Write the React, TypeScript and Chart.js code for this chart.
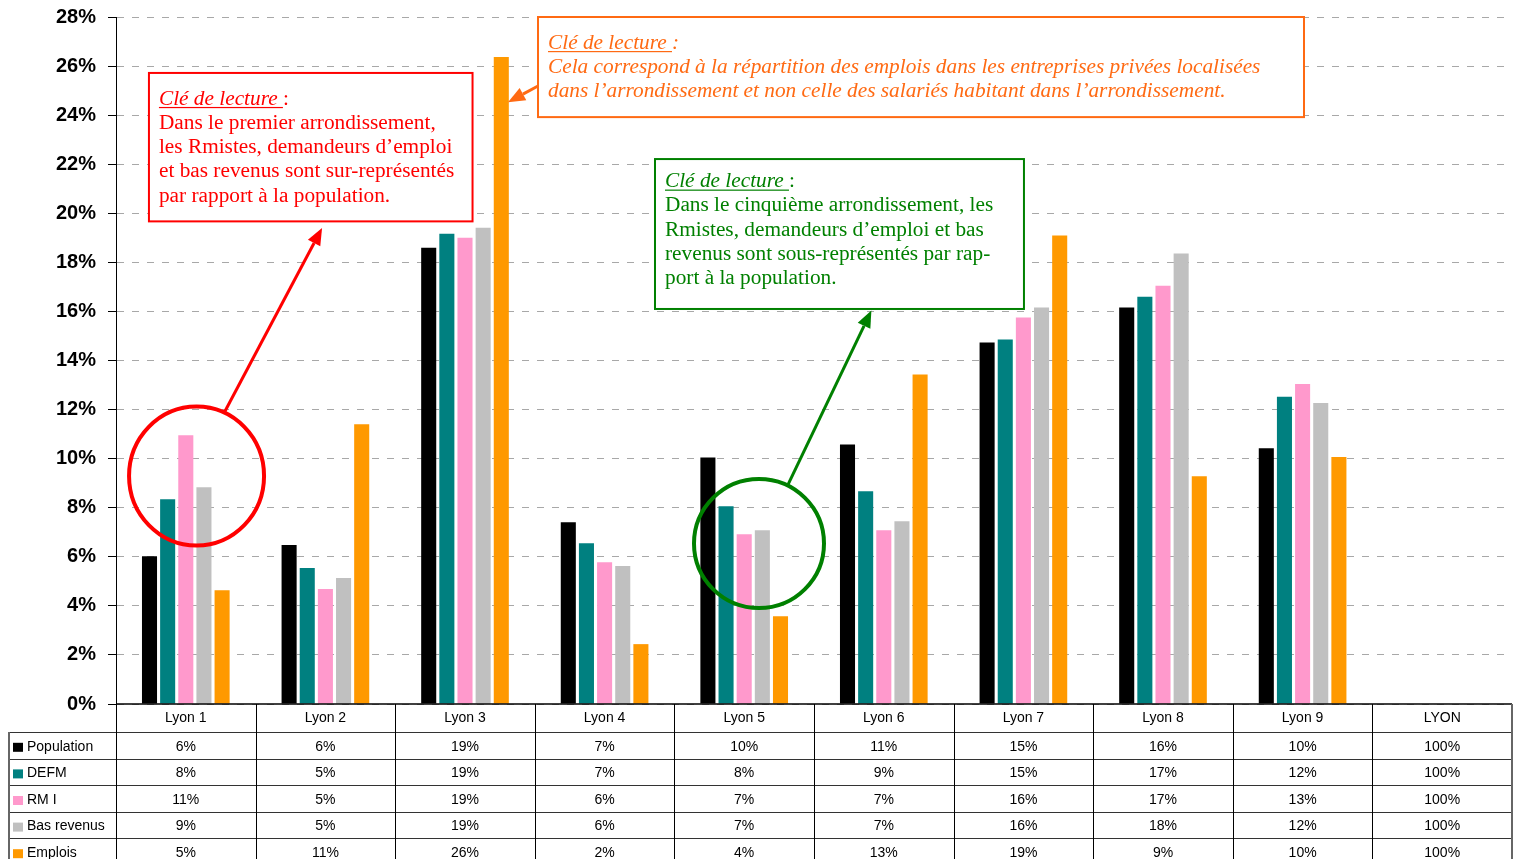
import { useEffect, useRef } from "react";
import { Chart, registerables } from "chart.js";

Chart.register(...registerables);

// ---------- data ----------
const categories = ["Lyon 1", "Lyon 2", "Lyon 3", "Lyon 4", "Lyon 5", "Lyon 6", "Lyon 7", "Lyon 8", "Lyon 9", "LYON"];

// bar heights (%); the LYON column (100%) is not drawn as bars
const population = [6.02, 6.48, 18.6, 7.41, 10.05, 10.58, 14.73, 16.16, 10.42, null];
const defm = [8.34, 5.54, 19.17, 6.55, 8.06, 8.67, 14.86, 16.6, 12.52, null];
const rmi = [10.95, 4.69, 19.0, 5.78, 6.92, 7.08, 15.75, 17.05, 13.04, null];
const basRevenus = [8.83, 5.14, 19.41, 5.62, 7.08, 7.45, 16.16, 18.36, 12.27, null];
const emplois = [4.64, 11.4, 26.37, 2.44, 3.58, 13.43, 19.09, 9.28, 10.07, null];

// data table (as printed)
const tablePopulation = ["6%", "6%", "19%", "7%", "10%", "11%", "15%", "16%", "10%", "100%"];
const tableDefm = ["8%", "5%", "19%", "7%", "8%", "9%", "15%", "17%", "12%", "100%"];
const tableRmi = ["11%", "5%", "19%", "6%", "7%", "7%", "16%", "17%", "13%", "100%"];
const tableBasRevenus = ["9%", "5%", "19%", "6%", "7%", "7%", "16%", "18%", "12%", "100%"];
const tableEmplois = ["5%", "11%", "26%", "2%", "4%", "13%", "19%", "9%", "10%", "100%"];

const seriesNames = ["Population", "DEFM", "RM I", "Bas revenus", "Emplois"];
const seriesColors = ["#000000", "#008080", "#FF99CC", "#C0C0C0", "#FF9900"];

const yTicks = [0, 2, 4, 6, 8, 10, 12, 14, 16, 18, 20, 22, 24, 26, 28];

// ---------- reading notes (anchored in data space: category index / percent) ----------
type Note = {
  color: string;
  italic: boolean;
  box: [number, number, number, number]; // left idx, right idx, top %, bottom %
  textTop: number;
  lines: string[];
  circle?: [number, number, number, number]; // idx, %, rx px, ry px
  arrow: [number, number, number, number]; // from idx,%  to idx,%
};

const notes: Note[] = [
  {
    color: "#FF0000",
    italic: false,
    box: [-0.264, 2.054, 25.72, 19.67],
    textTop: 26,
    lines: [
      "Dans le premier arrondissement,",
      "les Rmistes, demandeurs d’emploi",
      "et bas revenus sont sur-représentés",
      "par rapport à la population.",
    ],
    circle: [0.077, 9.29, 67.5, 69.5],
    arrow: [0.274, 11.86, 0.976, 19.4],
  },
  {
    color: "#FF6A13",
    italic: true,
    box: [2.523, 8.01, 28.0, 23.92],
    textTop: 26,
    lines: [
      "Cela correspond à la répartition des emplois dans les entreprises privées localisées",
      "dans l’arrondissement et non celle des salariés habitant dans l’arrondissement.",
    ],
    arrow: [2.523, 25.19, 2.308, 24.53],
  },
  {
    color: "#008000",
    italic: false,
    box: [3.361, 6.004, 22.21, 16.1],
    textTop: 22.5,
    lines: [
      "Dans le cinquième arrondissement, les",
      "Rmistes, demandeurs d’emploi et bas",
      "revenus sont sous-représentés par rap-",
      "port à la population.",
    ],
    circle: [4.106, 6.54, 65, 64.5],
    arrow: [4.313, 8.93, 4.911, 16.04],
  },
];

function drawArrow(ctx: CanvasRenderingContext2D, x1: number, y1: number, x2: number, y2: number, color: string) {
  const headLen = 17;
  const headW = 7;
  const ang = Math.atan2(y2 - y1, x2 - x1);
  const bx = x2 - headLen * Math.cos(ang);
  const by = y2 - headLen * Math.sin(ang);
  ctx.save();
  ctx.strokeStyle = color;
  ctx.lineWidth = 3;
  ctx.beginPath();
  ctx.moveTo(x1, y1);
  ctx.lineTo(bx, by);
  ctx.stroke();
  ctx.fillStyle = color;
  ctx.beginPath();
  ctx.moveTo(x2, y2);
  ctx.lineTo(bx + headW * Math.sin(ang), by - headW * Math.cos(ang));
  ctx.lineTo(bx - headW * Math.sin(ang), by + headW * Math.cos(ang));
  ctx.closePath();
  ctx.fill();
  ctx.restore();
}

const notesPlugin = {
  id: "readingNotes",
  afterDatasetsDraw(chart: any) {
    const ctx: CanvasRenderingContext2D = chart.ctx;
    const xs = chart.scales.x;
    const ys = chart.scales.y;
    const X = (i: number) => xs.getPixelForValue(i);
    const Y = (v: number) => ys.getPixelForValue(v);
    const lineH = 24.3;
    for (const n of notes) {
      ctx.save();
      if (n.circle) {
        ctx.strokeStyle = n.color;
        ctx.lineWidth = 4;
        ctx.beginPath();
        ctx.ellipse(X(n.circle[0]), Y(n.circle[1]), n.circle[2], n.circle[3], 0, 0, Math.PI * 2);
        ctx.stroke();
      }
      drawArrow(ctx, X(n.arrow[0]), Y(n.arrow[1]), X(n.arrow[2]), Y(n.arrow[3]), n.color);
      const l = X(n.box[0]);
      const r = X(n.box[1]);
      const t = Y(n.box[2]);
      const b = Y(n.box[3]);
      ctx.fillStyle = "#FFFFFF";
      ctx.fillRect(l, t, r - l, b - t);
      ctx.strokeStyle = n.color;
      ctx.lineWidth = 2;
      ctx.strokeRect(l, t, r - l, b - t);

      ctx.fillStyle = n.color;
      ctx.textBaseline = "middle";
      ctx.textAlign = "left";
      const tx = l + 10;
      let ty = t + n.textTop;
      ctx.font = "italic 21.3px 'Liberation Serif'";
      const head = "Clé de lecture ";
      ctx.fillText(head, tx, ty);
      const hw = ctx.measureText(head).width;
      ctx.fillRect(tx, ty + 8, hw, 1.2);
      ctx.font = (n.italic ? "italic " : "") + "21.3px 'Liberation Serif'";
      ctx.fillText(":", tx + hw, ty);
      for (const line of n.lines) {
        ty += lineH;
        ctx.fillText(line, tx, ty);
      }
      ctx.restore();
    }
  },
};

const tablePlugin = {
  id: "dataTable",
  afterDraw(chart: any) {
    const ctx: CanvasRenderingContext2D = chart.ctx;
    const xs = chart.scales.x;
    const area = chart.chartArea;
    const top = area.bottom;
    const headerBottom = top + 28;
    const rowH = 26.6;
    const leftEdge = 8;
    const bottom = chart.height + 10;
    const rows = [tablePopulation, tableDefm, tableRmi, tableBasRevenus, tableEmplois];
    const edge = (k: number) => xs.getPixelForValue(k - 0.5);

    ctx.save();
    ctx.strokeStyle = "#000000";
    ctx.lineWidth = 1.5;
    ctx.beginPath();
    ctx.moveTo(area.left, top);
    ctx.lineTo(area.right, top);
    ctx.stroke();
    ctx.lineWidth = 1;
    ctx.strokeStyle = "#333333";
    for (let k = 0; k < rows.length; k++) {
      const y = Math.round(headerBottom + k * rowH) + 0.5;
      ctx.beginPath();
      ctx.moveTo(leftEdge, y);
      ctx.lineTo(area.right, y);
      ctx.stroke();
    }
    ctx.strokeStyle = "#000000";
    for (let k = 0; k <= categories.length; k++) {
      const x = Math.round(edge(k)) + 0.5;
      ctx.beginPath();
      ctx.moveTo(x, top);
      ctx.lineTo(x, bottom);
      ctx.stroke();
    }
    ctx.strokeStyle = "#666666";
    ctx.lineWidth = 2;
    ctx.beginPath();
    ctx.moveTo(leftEdge + 1, headerBottom);
    ctx.lineTo(leftEdge + 1, bottom);
    ctx.moveTo(area.right, top);
    ctx.lineTo(area.right, bottom);
    ctx.stroke();

    ctx.fillStyle = "#000000";
    ctx.font = "14px 'Liberation Sans'";
    ctx.textBaseline = "middle";
    ctx.textAlign = "center";
    categories.forEach((c, i) => {
      ctx.fillText(c, xs.getPixelForValue(i), top + 14);
    });
    rows.forEach((row, r) => {
      const cy = headerBottom + r * rowH + rowH / 2 + 1.5;
      row.forEach((v, i) => {
        ctx.fillText(v, xs.getPixelForValue(i), cy);
      });
      ctx.textAlign = "left";
      ctx.fillStyle = seriesColors[r];
      ctx.fillRect(13, cy - 4, 10, 9);
      ctx.fillStyle = "#000000";
      ctx.fillText(seriesNames[r], 27, cy);
      ctx.textAlign = "center";
    });
    ctx.restore();
  },
};

export default function App() {
  const ref = useRef<HTMLCanvasElement | null>(null);

  useEffect(() => {
    if (!ref.current) return;
    const series = [population, defm, rmi, basRevenus, emplois];
    const chart = new Chart(ref.current, {
      type: "bar",
      data: {
        labels: categories,
        datasets: series.map((d, k) => ({
          label: seriesNames[k],
          data: d,
          backgroundColor: seriesColors[k],
          borderWidth: 0,
          categoryPercentage: 0.65,
          barPercentage: 0.83,
        })),
      },
      options: {
        animation: false,
        responsive: false,
        devicePixelRatio: 1,
        layout: { padding: { left: 0, right: 12, top: 17, bottom: 155 } },
        plugins: {
          legend: { display: false },
          tooltip: { enabled: false },
        },
        scales: {
          x: {
            display: false,
            grid: { display: false },
          },
          y: {
            min: 0,
            max: 28,
            afterBuildTicks: (scale: any) => {
              scale.ticks = yTicks.map((v) => ({ value: v }));
            },
            afterFit: (scale: any) => {
              scale.width = 116;
              scale.paddingTop = 0;
              scale.paddingBottom = 0;
            },
            ticks: {
              callback: (v: any) => v + "%",
              color: "#000000",
              padding: 12,
              font: { family: "'Liberation Sans'", weight: "bold", size: 20 },
            },
            grid: {
              color: "#A8A8A8",
              lineWidth: 1,
              tickLength: 8,
              tickColor: "#000000",
              drawTicks: true,
            },
            border: { display: true, color: "#000000", width: 1, dash: [7, 8] },
          },
        },
      },
      plugins: [notesPlugin, tablePlugin],
    } as any);
    return () => chart.destroy();
  }, []);

  return (
    <div style={{ position: "fixed", left: 0, top: 0, width: 1524, height: 859, overflow: "hidden", background: "#fff" }}>
      <canvas ref={ref} width={1524} height={859} style={{ display: "block", width: 1524, height: 859 }} />
    </div>
  );
}
